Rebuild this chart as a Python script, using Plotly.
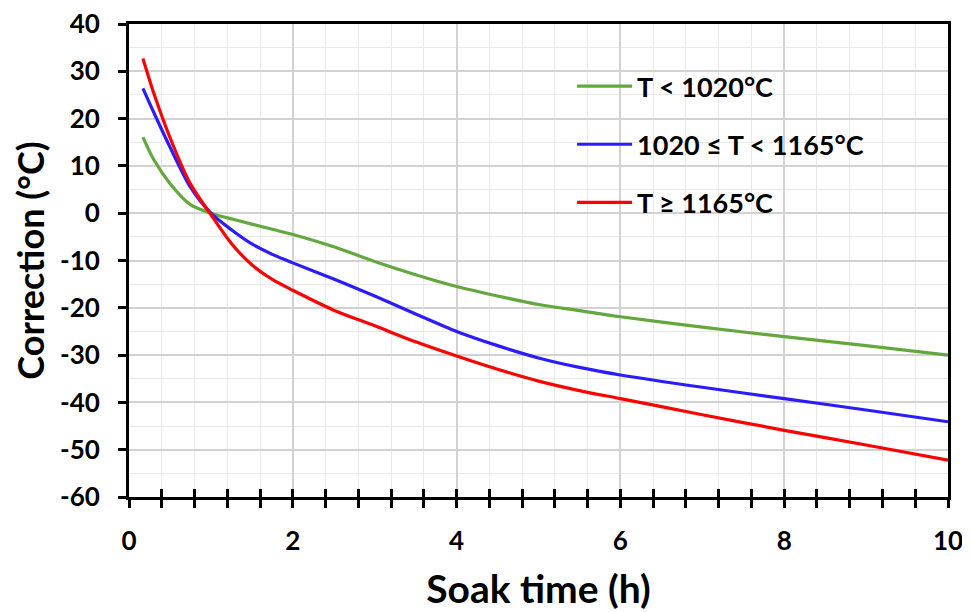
import plotly.graph_objects as go

soak_time = [0.17, 0.3, 0.5, 0.75, 1.0, 1.25, 1.5, 1.75, 2.0, 2.5, 3.0, 3.5,
             4.0, 4.5, 5.0, 5.5, 6.0, 7.0, 8.0, 9.0, 10.0]
low_T = [16.1, 11.4, 6.3, 1.8, 0.0, -1.2, -2.3, -3.4, -4.5, -7.1, -10.2, -13.0,
         -15.5, -17.5, -19.3, -20.6, -21.9, -24.1, -26.1, -28.0, -30.0]
mid_T = [26.4, 21.4, 14.0, 5.5, 0.0, -3.5, -6.5, -8.7, -10.5, -13.9, -17.5, -21.3,
         -25.0, -28.0, -30.6, -32.6, -34.2, -36.8, -39.2, -41.6, -44.1]
high_T = [32.7, 25.5, 16.0, 6.2, -0.3, -6.4, -10.9, -14.0, -16.3, -20.5, -23.8, -27.2,
          -30.2, -33.0, -35.5, -37.5, -39.2, -42.6, -45.9, -49.0, -52.2]

y_tick_vals = [40, 30, 20, 10, 0, -10, -20, -30, -40, -50, -60]
y_tick_text = ["40", "30", "20", "10", "0", "-10", "-20", "-30", "-40", "-50", "-60"]
x_tick_vals = [0, 2, 4, 6, 8, 10]
x_tick_text = ["0", "2", "4", "6", "8", "10"]

series = [
    ("T < 1020°C", low_T, "#63a83e"),
    ("1020 ≤ T < 1165°C", mid_T, "#2a1cff"),
    ("T ≥ 1165°C", high_T, "#ff0000"),
]

FONT = "Lato"

fig = go.Figure()
for i, (name, vals, col) in enumerate(series):
    fig.add_trace(go.Scatter(
        x=soak_time, y=vals, mode="lines", name=name,
        line=dict(color=col, width=3.2, shape="spline", smoothing=0.8),
        legendgroup=f"g{i}",
    ))
# helper trace for the overlay axis carrying the inner ticks
fig.add_trace(go.Scatter(x=[], y=[], xaxis="x2", showlegend=False, hoverinfo="skip"))

fig.update_layout(
    width=970, height=612,
    margin=dict(l=121, r=30, t=16, b=123),
    paper_bgcolor="white", plot_bgcolor="white",
    font=dict(family=FONT, color="black"),
    showlegend=True,
    legend=dict(
        x=0.541, y=0.9195, xanchor="left", yanchor="top",
        bgcolor="rgba(0,0,0,0)", borderwidth=0,
        font=dict(family=FONT, size=27, color="black", weight="bold"),
        traceorder="grouped", tracegroupgap=20, itemwidth=55,
    ),
    xaxis=dict(
        range=[0, 10], tickmode="array", tickvals=x_tick_vals, ticktext=x_tick_text,
        automargin=False, ticklabeloverflow="allow",
        showline=True, linecolor="black", linewidth=3, mirror=True,
        ticks="outside", ticklen=8, tickwidth=2.5, tickcolor="black",
        tickfont=dict(family=FONT, size=26, color="black", weight="bold"),
        ticklabelstandoff=11,
        showgrid=True, gridcolor="#d2d2d2", gridwidth=1.5,
        minor=dict(dtick=0.4, tick0=0, ticks="outside", ticklen=8, tickwidth=2.5,
                   tickcolor="black", showgrid=True, gridcolor="#e9e9e9", gridwidth=1),
        zeroline=False,
        title=dict(text="Soak time (h)", font=dict(family=FONT, size=39, color="black", weight="bold"),
                   standoff=21),
    ),
    xaxis2=dict(
        range=[0, 10], overlaying="x", anchor="y", side="bottom", automargin=False,
        dtick=0.4, tick0=0, ticks="inside", ticklen=8, tickwidth=2.5, tickcolor="black",
        showticklabels=False, showgrid=False, zeroline=False, showline=False,
    ),
    yaxis=dict(
        range=[-60, 40], tickmode="array", tickvals=y_tick_vals, ticktext=y_tick_text,
        automargin=False, ticklabeloverflow="allow",
        showline=True, linecolor="black", linewidth=3, mirror=True,
        ticks="outside", ticklen=8, tickwidth=2.5, tickcolor="black",
        tickfont=dict(family=FONT, size=26, color="black", weight="bold"),
        ticklabelstandoff=13,
        showgrid=True, gridcolor="#d2d2d2", gridwidth=1.5,
        minor=dict(dtick=5, tick0=0, showgrid=True, gridcolor="#e9e9e9", gridwidth=1, ticks=""),
        zeroline=False,
        title=dict(text="Correction (°C)", font=dict(family=FONT, size=36, color="black", weight="bold"),
                   standoff=12),
    ),
    shapes=[dict(type="rect", xref="paper", yref="paper",
                 x0=0.502, x1=0.938, y0=0.560, y1=0.928,
                 fillcolor="white", line=dict(width=0), layer="between")],
)

fig.write_html("out.html")
